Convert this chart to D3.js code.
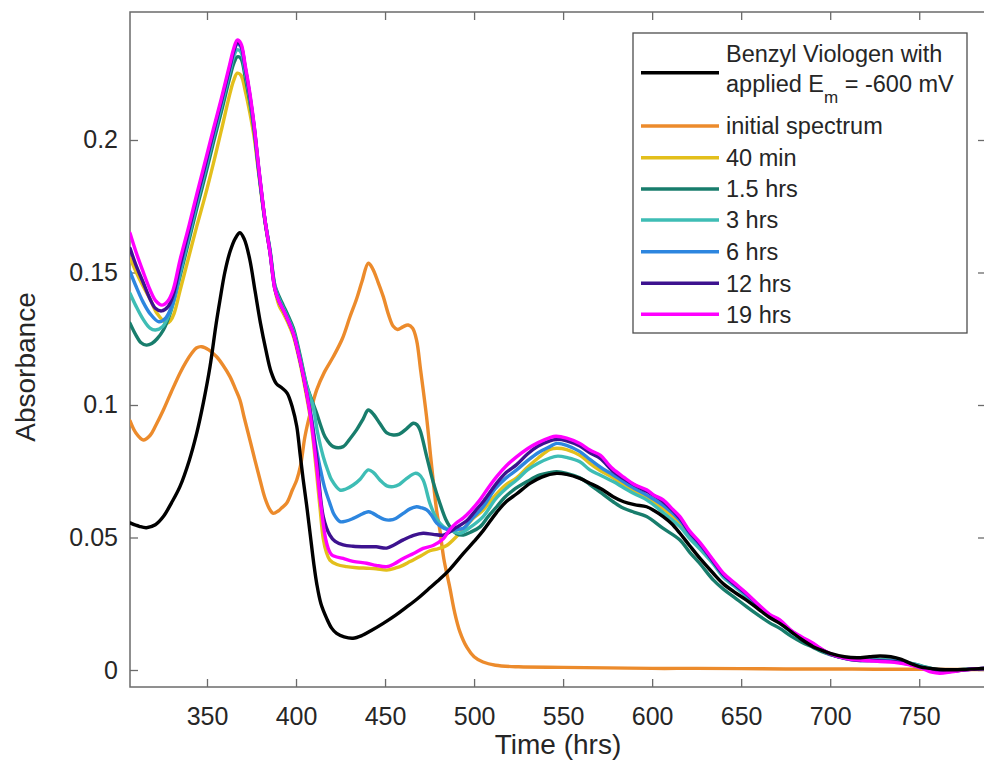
<!DOCTYPE html>
<html>
<head>
<meta charset="utf-8">
<script src="https://cdn.jsdelivr.net/npm/d3@7"></script>
<style>
  html, body { margin: 0; padding: 0; background: #ffffff; }
  svg { display: block; font-family: "Liberation Sans", Arial, Helvetica, sans-serif; }
</style>
</head>
<body>
<svg id="chart" width="984" height="771"></svg>
<script>
// ---------------- data (wavelength, absorbance) ----------------
const seriesNames = ["Benzyl Viologen with applied Em = -600 mV", "initial spectrum", "40 min", "1.5 hrs", "3 hrs", "6 hrs", "12 hrs", "19 hrs"];
const seriesColors = ["#000000", "#EC8B2C", "#E3BF1C", "#187D6C", "#3EBDB5", "#2D86DF", "#3D128F", "#FF00FF"];

const xTicks = [350, 400, 450, 500, 550, 600, 650, 700, 750];
const yTicks = [0, 0.05, 0.1, 0.15, 0.2];
const yTickLabels = ["0", "0.05", "0.1", "0.15", "0.2"];
const xDomain = [306.76, 787.5];
const yDomain = [-0.006415, 0.2483];

const benzylViologen = [[306.8,0.0555],[312,0.0542],[316,0.0537],[321,0.0548],[325.5,0.0579],[330,0.063],[334.8,0.0692],[340,0.079],[344.2,0.0893],[348,0.101],[351.7,0.1145],[355,0.130],[357.3,0.1396],[360,0.150],[363,0.158],[366,0.163],[368.5,0.165],[371,0.1625],[374,0.155],[377,0.143],[380,0.131],[383,0.121],[386,0.1125],[389,0.108],[392,0.1065],[395,0.1045],[398,0.099],[400.4,0.092],[402.2,0.082],[404,0.072],[406,0.062],[408,0.051],[410,0.040],[411.6,0.0327],[414,0.025],[417.2,0.0195],[420,0.0158],[422.8,0.0138],[427,0.0125],[432,0.012],[437,0.013],[442,0.0148],[449,0.0176],[456,0.0207],[462,0.0237],[468,0.0268],[474,0.0303],[480.8,0.0343],[486.4,0.0380],[494,0.044],[500,0.0485],[505,0.0525],[512.7,0.0595],[518,0.0635],[524,0.0665],[531.4,0.0704],[538,0.0728],[546.4,0.0742],[552,0.0738],[559.4,0.0723],[565,0.0705],[571,0.0685],[578.1,0.0654],[584,0.0635],[590,0.0624],[596.9,0.0616],[601,0.0602],[606.2,0.0579],[611,0.0552],[615.6,0.0516],[621,0.047],[627,0.042],[634.3,0.0365],[640,0.0325],[646,0.0295],[653,0.0264],[660,0.0228],[666,0.0198],[671.7,0.0176],[678,0.0145],[684,0.0115],[690.4,0.0088],[695,0.0075],[700,0.0063],[708,0.0050],[715,0.0046],[722,0.0050],[728,0.0053],[734,0.0050],[740,0.0040],[745,0.0025],[750,0.0013],[756,0.0006],[762,0.0002],[768,0.0001],[775,0.0002],[781,0.0004],[787.5,0.0006]];

const initialSpectrum = [[306.8,0.094],[310,0.0895],[314.2,0.0868],[318,0.0885],[321,0.092],[325.5,0.0981],[330,0.105],[334.8,0.112],[338,0.116],[341.4,0.1195],[344,0.1215],[347,0.122],[351,0.1208],[355.4,0.1182],[359,0.115],[362.9,0.1107],[366,0.106],[368.5,0.1019],[371,0.095],[374.1,0.0868],[377,0.079],[379.8,0.0717],[382.5,0.065],[385.4,0.0604],[387.2,0.0591],[390,0.060],[392,0.0612],[394.7,0.0629],[398,0.068],[400.4,0.0717],[402.5,0.077],[405,0.088],[408,0.097],[411.6,0.1057],[416,0.1125],[420.9,0.1182],[426,0.125],[430.3,0.1333],[434,0.140],[437,0.1465],[440.6,0.1535],[443,0.1515],[446,0.1465],[449,0.1409],[452,0.134],[454.6,0.1297],[457,0.1285],[460,0.1295],[463,0.1302],[465.5,0.129],[467.7,0.1245],[470,0.113],[473.3,0.0956],[476,0.078],[479,0.060],[480.8,0.0528],[483,0.042],[486.4,0.031],[489,0.022],[492,0.0145],[496,0.0085],[500,0.0050],[505,0.0030],[512,0.0018],[525,0.0012],[550,0.0010],[575,0.0008],[600,0.0006],[625,0.0006],[650,0.0005],[675,0.0004],[700,0.0004],[725,0.0003],[750,0.0003],[770,0.0002],[787.5,0.0002]];

const min40 = [[306.8,0.1554],[310,0.1505],[314,0.145],[318,0.140],[322,0.1345],[327.4,0.1308],[329.5,0.1318],[331.5,0.1345],[334.8,0.143],[340,0.1565],[344.2,0.1673],[349,0.179],[353.6,0.1912],[358,0.2035],[362.9,0.2176],[365,0.2225],[367,0.2252],[369,0.2245],[371.5,0.2185],[374,0.2105],[376.5,0.201],[379,0.1875],[382.6,0.169],[385.4,0.1575],[388.2,0.1435],[390.5,0.1375],[392.9,0.1345],[395.5,0.131],[398.5,0.126],[402.2,0.116],[406,0.103],[408.5,0.093],[411.6,0.074],[413.5,0.061],[415.3,0.0495],[417,0.0445],[419,0.0415],[423,0.0398],[428.4,0.039],[434,0.0386],[439.7,0.0384],[445,0.0382],[450.9,0.0377],[456,0.0385],[460,0.0395],[464,0.0409],[470,0.043],[475.2,0.0450],[480,0.0458],[484.6,0.047],[490,0.0503],[495,0.054],[500,0.0575],[505.1,0.0604],[512,0.066],[518,0.070],[523.9,0.0725],[530,0.0765],[536,0.080],[542.6,0.0832],[546.4,0.0837],[552,0.0832],[559.4,0.081],[565,0.078],[571,0.0752],[578.1,0.0725],[584,0.0698],[590,0.0675],[596.9,0.065],[606,0.061],[615.6,0.0555],[621,0.0508],[627,0.0465],[634.3,0.0405],[640,0.0355],[646,0.032],[653,0.0281],[660,0.0238],[666,0.0203],[671.7,0.0181],[678,0.0145],[684,0.0119],[690.4,0.0096],[695,0.0077],[700,0.006],[708,0.0045],[715,0.0038],[722,0.0037],[728,0.0036],[736,0.0034],[744,0.0025],[752,0.0011],[758,-0.0002],[763,-0.0005],[770,-0.0002],[776,0.0001],[781,0.0004],[787.5,0.0006]];

const hrs1_5 = [[306.8,0.1308],[310,0.1265],[313,0.1235],[316,0.1226],[319,0.1232],[322,0.125],[325.5,0.1283],[329,0.134],[332,0.141],[335,0.149],[340,0.1625],[344.2,0.174],[349,0.1865],[353.6,0.199],[358,0.2105],[362.9,0.2238],[365,0.2288],[367,0.2314],[369,0.2308],[371.5,0.2235],[374,0.2145],[376.5,0.2035],[379,0.1885],[382.6,0.1695],[385.4,0.1585],[388.2,0.145],[390.5,0.141],[392.9,0.1375],[395.5,0.1338],[398.5,0.129],[402.2,0.119],[406,0.1075],[408.5,0.1025],[411.6,0.0969],[414,0.092],[416.3,0.088],[420.9,0.0843],[426.5,0.0843],[430,0.087],[434,0.0906],[437.5,0.0945],[440.6,0.0981],[443.5,0.0965],[447,0.0931],[451,0.0895],[454.6,0.0887],[458,0.089],[462,0.091],[465.9,0.0931],[468,0.0925],[469.6,0.0906],[473.4,0.0805],[477,0.071],[480.8,0.0629],[484,0.057],[486.4,0.0541],[490,0.0515],[494,0.0509],[498,0.052],[503.3,0.054],[508,0.058],[512.7,0.0616],[517,0.065],[522,0.0679],[530,0.0712],[537,0.0736],[542.6,0.0745],[546.4,0.0748],[552,0.0742],[559.4,0.0725],[565,0.070],[571,0.067],[578.1,0.0635],[584,0.061],[590,0.0595],[596.9,0.0579],[606,0.0535],[615.6,0.0491],[621,0.0445],[627,0.040],[634.3,0.034],[640,0.0305],[646,0.0275],[653,0.0239],[660,0.0205],[666,0.0178],[671.7,0.0157],[678,0.0128],[684,0.0105],[690.4,0.0085],[695,0.007],[700,0.0058],[708,0.0046],[715,0.0041],[722,0.004],[728,0.0039],[736,0.0036],[744,0.0028],[752,0.0014],[758,0.0004],[763,0],[770,0.0001],[776,0.0002],[781,0.0004],[787.5,0.0006]];

const hrs3 = [[306.8,0.1421],[310,0.1375],[314,0.1325],[318,0.129],[321,0.1283],[325,0.1295],[329,0.1345],[332,0.141],[334.8,0.1495],[340,0.164],[344.2,0.1758],[349,0.1885],[353.6,0.201],[358,0.2125],[362.9,0.226],[365,0.2315],[367,0.234],[369,0.2332],[371.5,0.2255],[374,0.216],[376.5,0.2043],[379,0.189],[382.6,0.1695],[385.4,0.158],[388.2,0.1445],[390.5,0.14],[392.9,0.1365],[395.5,0.1328],[398.5,0.128],[402.2,0.118],[406,0.107],[408,0.103],[409.7,0.0994],[412,0.090],[415.3,0.0805],[418,0.075],[420,0.0717],[424.7,0.0679],[428,0.0683],[432.1,0.0698],[436,0.072],[440.6,0.0755],[443.5,0.0745],[447.1,0.0717],[451,0.0695],[454.6,0.0692],[458,0.070],[462,0.0722],[466.8,0.0742],[469,0.0738],[471.4,0.0717],[475.2,0.0629],[479,0.057],[482.7,0.0541],[486.4,0.0528],[492,0.0516],[497,0.0535],[505.1,0.0579],[512,0.0645],[518,0.0685],[523.9,0.0717],[530,0.0755],[536,0.078],[542.6,0.080],[547,0.0807],[552,0.0802],[559.4,0.0786],[565,0.0755],[571,0.0735],[578.1,0.0711],[584,0.0688],[590,0.0665],[596.9,0.0642],[606,0.0595],[615.6,0.0541],[621,0.0497],[627,0.0455],[634.3,0.040],[640,0.035],[646,0.0317],[653,0.0278],[660,0.0235],[666,0.02],[671.7,0.0178],[678,0.0143],[684,0.0117],[690.4,0.0095],[695,0.0076],[700,0.006],[708,0.0046],[715,0.004],[722,0.0039],[728,0.0038],[736,0.0035],[744,0.0027],[752,0.0013],[758,0.0002],[763,-0.0002],[770,0],[776,0.0002],[781,0.0004],[787.5,0.0006]];

const hrs6 = [[306.8,0.1503],[310,0.145],[314,0.139],[318,0.1345],[323,0.1314],[327,0.133],[331,0.139],[334.8,0.151],[340,0.1655],[344.2,0.1772],[349,0.1898],[353.6,0.2022],[358,0.2138],[362.9,0.2272],[365,0.233],[367,0.2362],[369,0.2352],[371.5,0.2268],[374,0.2168],[376.5,0.2048],[379,0.1893],[382.6,0.1695],[385.4,0.1578],[388.2,0.144],[390.5,0.1395],[392.9,0.136],[395.5,0.1322],[398.5,0.1272],[402.2,0.1172],[406,0.105],[408.5,0.096],[411,0.085],[413.4,0.0767],[416,0.069],[419,0.0629],[421.5,0.0585],[424.7,0.056],[428,0.0562],[432.1,0.0572],[436,0.0585],[440.6,0.0597],[443,0.0592],[446.2,0.0579],[449.5,0.0568],[452.8,0.0566],[456,0.0572],[460.2,0.0591],[464,0.0608],[467.7,0.0616],[470.5,0.0612],[473.4,0.0604],[476,0.0585],[479,0.0554],[483,0.0535],[486.4,0.0528],[490,0.053],[494,0.0535],[499,0.0572],[505.1,0.0616],[512,0.0685],[518,0.0725],[523.9,0.0755],[530,0.079],[536,0.082],[542.6,0.0843],[546.4,0.0855],[552,0.0848],[559.4,0.0824],[565,0.0795],[571,0.0765],[578.1,0.0736],[584,0.071],[590,0.0685],[596.9,0.066],[606,0.0622],[615.6,0.0565],[621,0.0515],[627,0.047],[634.3,0.0408],[640,0.0358],[646,0.0322],[653,0.0284],[660,0.024],[666,0.0205],[671.7,0.0183],[678,0.0146],[684,0.012],[690.4,0.0097],[695,0.0077],[700,0.006],[708,0.0044],[715,0.0037],[722,0.0036],[728,0.0035],[736,0.0033],[744,0.0024],[752,0.001],[758,-0.0003],[763,-0.0006],[770,-0.0003],[776,0.0001],[781,0.0004],[787.5,0.0006]];

const hrs12 = [[306.8,0.1591],[310,0.153],[314,0.1465],[318,0.140],[321,0.1365],[324.5,0.1355],[328,0.137],[331,0.1415],[334.8,0.1525],[340,0.1665],[344.2,0.178],[349,0.1905],[353.6,0.203],[358,0.2145],[362.9,0.2278],[365,0.2335],[367,0.2367],[369,0.2357],[371.5,0.2272],[374,0.2172],[376.5,0.205],[379,0.1895],[382.6,0.1695],[385.4,0.1575],[388.2,0.1435],[390.5,0.139],[392.9,0.1358],[395.5,0.132],[398.5,0.127],[402.2,0.117],[406,0.1044],[408.5,0.095],[411.6,0.080],[415.3,0.0579],[419,0.0509],[422,0.0485],[426.5,0.0472],[432,0.0467],[439.7,0.0465],[445,0.0465],[450.9,0.046],[455,0.0472],[460.2,0.0491],[466,0.0508],[471.4,0.0516],[477,0.0512],[482.7,0.0509],[486.4,0.0522],[490,0.0538],[495.7,0.0562],[500,0.0595],[505.1,0.0635],[512.7,0.0705],[518,0.0745],[523.9,0.0775],[530,0.0815],[536,0.0845],[542.6,0.0865],[546,0.087],[552,0.0865],[559.4,0.0845],[565,0.082],[571,0.0798],[578,0.075],[584,0.0722],[590,0.0698],[596.9,0.0674],[606,0.0636],[615.6,0.0572],[621,0.052],[627,0.0475],[634.3,0.041],[640,0.036],[646,0.0325],[653,0.0287],[660,0.0242],[666,0.0207],[671.7,0.0186],[678,0.0148],[684,0.0122],[690.4,0.0098],[695,0.0078],[700,0.006],[708,0.0044],[715,0.0037],[722,0.0036],[728,0.0035],[736,0.0032],[744,0.0022],[752,0.0008],[758,-0.0005],[763,-0.0008],[770,-0.0004],[776,0.0001],[781,0.0004],[787.5,0.0006]];

const hrs19 = [[306.8,0.1648],[310,0.158],[314,0.1505],[318,0.1435],[321,0.1395],[324.7,0.1377],[328,0.1392],[331,0.1435],[334.8,0.1546],[340,0.168],[344.2,0.1794],[349,0.192],[353.6,0.2042],[358,0.2155],[362.9,0.2289],[365,0.2345],[367,0.2377],[369,0.2365],[371.5,0.228],[374,0.218],[376.5,0.2055],[379,0.190],[382.6,0.1698],[385.4,0.1575],[388.2,0.1435],[390.5,0.139],[392.9,0.1358],[395.5,0.132],[398.5,0.127],[402.2,0.117],[406,0.1044],[408.5,0.094],[411.6,0.0767],[414,0.062],[417.2,0.0478],[420,0.0435],[426.5,0.0421],[432,0.041],[439.7,0.0403],[445,0.0395],[450.9,0.039],[455,0.040],[460.2,0.0421],[466,0.044],[471.4,0.0459],[477,0.047],[482.7,0.0495],[486.4,0.053],[490,0.0555],[494,0.0574],[498,0.060],[503.3,0.0642],[508,0.0688],[512.7,0.073],[518,0.077],[524,0.0805],[530,0.0835],[536,0.0858],[542.6,0.0877],[546,0.0882],[552,0.0875],[559.4,0.0855],[565,0.083],[571,0.081],[575,0.078],[578.1,0.0758],[584,0.0728],[590,0.070],[596.9,0.068],[601,0.066],[606.2,0.0642],[611,0.061],[615.6,0.0579],[621,0.0525],[627,0.048],[634.3,0.0415],[640,0.0365],[646,0.033],[653,0.029],[660,0.0245],[666,0.021],[671.7,0.0189],[678,0.015],[684,0.0125],[690.4,0.0101],[695,0.008],[700,0.0062],[708,0.0045],[715,0.0038],[722,0.0035],[728,0.0032],[736,0.0029],[744,0.002],[752,0.0005],[757,-0.0008],[761.5,-0.0012],[768,-0.0007],[775,0.0000],[781,0.0004],[787.5,0.0006]];

const seriesData = [benzylViologen, initialSpectrum, min40, hrs1_5, hrs3, hrs6, hrs12, hrs19];
// draw order (index into seriesData): black drawn last
const drawOrder = [1, 2, 3, 4, 5, 6, 7, 0];

// ---------------- layout ----------------
const plot = { left: 130, right: 986, top: 12, bottom: 687 };
const svg = d3.select("#chart");
const x = d3.scaleLinear().domain(xDomain).range([plot.left, plot.right]);
const y = d3.scaleLinear().domain(yDomain).range([plot.bottom, plot.top]);

const axisColor = "#6b6b6b";
const textColor = "#262626";

svg.append("rect").attr("x", 0).attr("y", 0).attr("width", 984).attr("height", 771).attr("fill", "#fff");

svg.append("defs").append("clipPath").attr("id", "plotclip")
  .append("rect").attr("x", plot.left).attr("y", plot.top)
  .attr("width", plot.right - plot.left).attr("height", plot.bottom - plot.top);

// axes
const gBottom = svg.append("g").attr("transform", `translate(0,${plot.bottom})`)
  .call(d3.axisBottom(x).tickValues(xTicks).tickSizeInner(-8).tickSizeOuter(0).tickPadding(20).tickFormat(d3.format("d")));
const gTop = svg.append("g").attr("transform", `translate(0,${plot.top})`)
  .call(d3.axisTop(x).tickValues(xTicks).tickSizeInner(-8).tickSizeOuter(0).tickFormat(""));
const gLeft = svg.append("g").attr("transform", `translate(${plot.left},0)`)
  .call(d3.axisLeft(y).tickValues(yTicks).tickSizeInner(-8).tickSizeOuter(0).tickPadding(12)
    .tickFormat((d, i) => yTickLabels[i]));
const gRight = svg.append("g").attr("transform", `translate(${plot.right},0)`)
  .call(d3.axisRight(y).tickValues(yTicks).tickSizeInner(-8).tickSizeOuter(0).tickFormat(""));

[gBottom, gTop, gLeft, gRight].forEach(g => {
  g.select(".domain").remove();
  g.selectAll(".tick line").attr("stroke", axisColor).attr("stroke-width", 1.3);
  g.selectAll(".tick text").attr("fill", textColor)
    .style("font-family", '"Liberation Sans", Arial, sans-serif').style("font-size", "25px");
});

// box
svg.append("rect").attr("x", plot.left).attr("y", plot.top)
  .attr("width", plot.right - plot.left).attr("height", plot.bottom - plot.top)
  .attr("fill", "none").attr("stroke", axisColor).attr("stroke-width", 1.5);

// lines
const line = d3.line().x(d => x(d[0])).y(d => y(d[1])).curve(d3.curveCatmullRom.alpha(0.5));
const gLines = svg.append("g").attr("clip-path", "url(#plotclip)");
drawOrder.forEach(i => {
  gLines.append("path").datum(seriesData[i])
    .attr("fill", "none").attr("stroke", seriesColors[i])
    .attr("stroke-width", 3.4).attr("stroke-linejoin", "round").attr("stroke-linecap", "round")
    .attr("d", line);
});

// axis titles
svg.append("text").attr("x", (plot.left + plot.right) / 2).attr("y", 754)
  .attr("text-anchor", "middle").attr("fill", textColor)
  .style("font-size", "28px").text("Time (hrs)");
svg.append("text").attr("transform", "translate(35,367) rotate(-90)")
  .attr("text-anchor", "middle").attr("fill", textColor)
  .style("font-size", "28px").text("Absorbance");

// legend
const leg = { x: 633, y: 33, w: 334, h: 300 };
const gLeg = svg.append("g");
gLeg.append("rect").attr("x", leg.x).attr("y", leg.y).attr("width", leg.w).attr("height", leg.h)
  .attr("fill", "#fff").attr("stroke", "#4d4d4d").attr("stroke-width", 1.3);
const legLineY = [72.7, 126, 157.7, 189, 220, 251.7, 283.3, 314.3];
const legFs = 23.5;
seriesData.forEach((s, i) => {
  gLeg.append("line").attr("x1", 641).attr("x2", 719).attr("y1", legLineY[i]).attr("y2", legLineY[i])
    .attr("stroke", seriesColors[i]).attr("stroke-width", 3.4);
  if (i > 0) {
    gLeg.append("text").attr("x", 726).attr("y", legLineY[i] + 0.35 * legFs)
      .attr("fill", textColor).style("font-size", legFs + "px").text(seriesNames[i]);
  }
});
// first entry: two lines with subscript
gLeg.append("text").attr("x", 726).attr("y", 62).attr("fill", textColor)
  .style("font-size", legFs + "px").text("Benzyl Viologen with");
const t2 = gLeg.append("text").attr("x", 726).attr("y", 92).attr("fill", textColor)
  .style("font-size", legFs + "px");
t2.append("tspan").text("applied E");
t2.append("tspan").attr("dy", 11).style("font-size", "17px").text("m");
t2.append("tspan").attr("dy", -11).text(" = -600 mV");
</script>
</body>
</html>
